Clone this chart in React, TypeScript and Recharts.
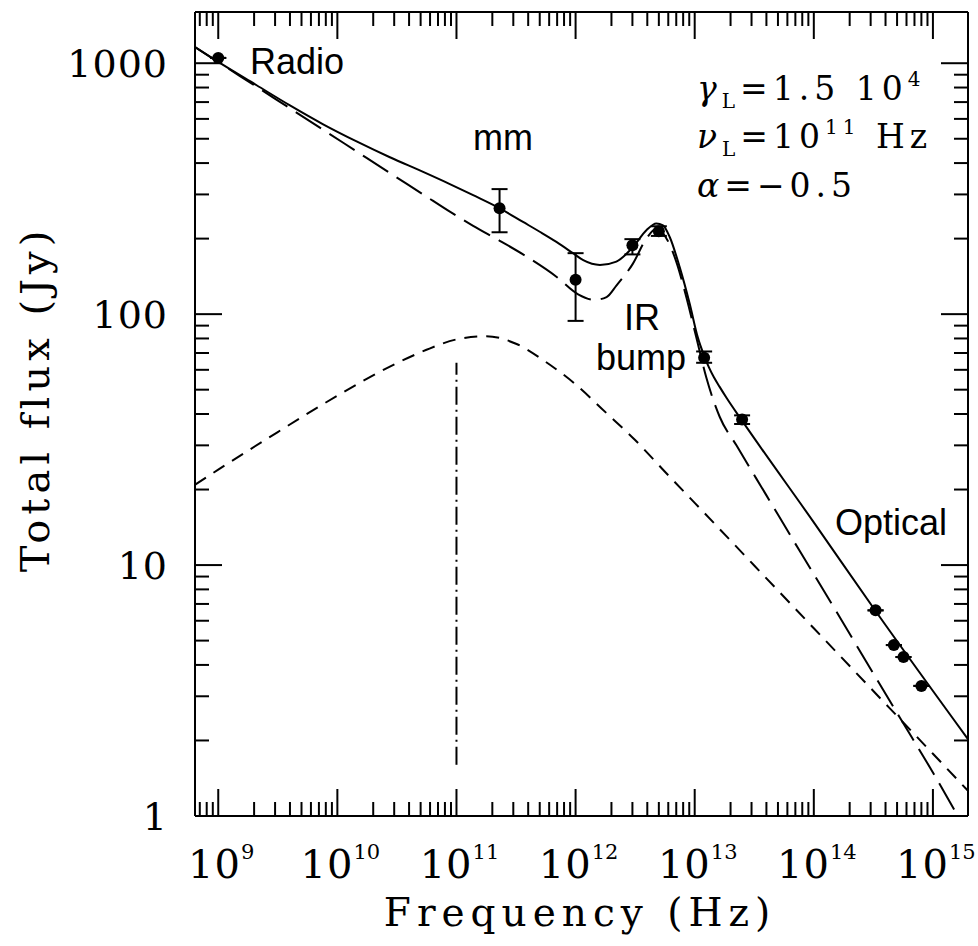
// Broad-band spectrum (radio → optical) with model curves, recharts log-log
import { ComposedChart, Line, Scatter, ErrorBar, XAxis, YAxis } from 'recharts';

// frequency in Hz, flux in Jy
const totalNu = [6.38e8, 1.0e9, 2.1e9, 4.0e9, 7.6e9, 1.45e10, 2.76e10, 5.25e10, 8.8e10, 1.38e11, 2.31e11, 3.62e11, 5.0e11, 6.9e11, 9.5e11, 1.16e12, 1.6e12, 2.2e12, 3.03e12, 3.93e12, 4.76e12, 5.42e12, 6.17e12, 7.48e12, 9.08e12, 1.06e13, 1.21e13, 1.32e13, 1.45e13, 1.62e13, 1.86e13, 2.48e13, 1.0e14, 3.3e14, 1.99e15];
const totalFlux = [1160, 1012, 817, 679, 571, 488, 422, 369, 330, 298, 264, 233, 213, 194, 175, 164, 157, 162, 185, 216, 230, 226, 203, 154, 110, 81, 67.6, 61.2, 56.0, 51.3, 46.2, 37.8, 14.8, 6.56, 2.01];

const longDashNu = [6.38e8, 1.1e9, 2.1e9, 4.0e9, 7.6e9, 1.45e10, 2.76e10, 5.25e10, 8.8e10, 1.38e11, 2.31e11, 3.62e11, 6.9e11, 1.05e12, 1.45e12, 1.82e12, 2.2e12, 3.03e12, 3.93e12, 4.76e12, 5.42e12, 7.0e12, 8.5e12, 1.03e13, 1.25e13, 1.62e13, 2.24e13, 3.99e13, 7.6e13, 1.45e14, 2.75e14, 5.24e14, 1.0e15, 1.62e15];
const longDashFlux = [1160, 982, 805, 661, 543, 445, 365, 300, 256, 225, 196, 173, 141, 120, 114, 117, 130, 159, 200, 219, 210, 162, 117, 81, 56, 39, 30, 19.0, 11.4, 6.87, 4.13, 2.48, 1.49, 1.0];

const shortDashNu = [6.38e8, 1.0e9, 3.16e9, 1.0e10, 3.16e10, 5.6e10, 1.0e11, 1.78e11, 3.16e11, 5.6e11, 1.0e12, 1.78e12, 3.16e12, 5.6e12, 1.0e13, 3.16e13, 1.0e14, 3.16e14, 1.0e15, 1.97e15];
const shortDashFlux = [20.9, 24.0, 33.9, 47.3, 63.8, 72.1, 79.3, 81.7, 76.2, 64.6, 52.5, 40.7, 31.5, 23.6, 17.7, 9.96, 5.6, 3.15, 1.77, 1.26];

// nu_L marker (dash-dot)
const nuLNu = [1e11, 1e11];
const nuLFlux = [1.6, 64];

// observed points with (lower, upper) error
const obsNu = [1.0e9, 2.3e11, 1.0e12, 3.0e12, 5.0e12, 1.2e13, 2.5e13, 3.3e14, 4.7e14, 5.66e14, 8.0e14];
const obsFlux = [1050, 264, 137, 188, 214, 67, 38, 6.6, 4.8, 4.3, 3.3];
const obsErrLow = [0, 52, 43, 15, 9, 3, 1.5, 0, 0, 0, 0];
const obsErrHigh = [0, 51, 38, 11, 10, 4, 1.5, 0, 0, 0, 0];

const xExponents = [9, 10, 11, 12, 13, 14, 15];
const yTickLabels = ['1', '10', '100', '1000'];
const minorMantissas = [2, 3, 4, 5, 6, 7, 8, 9];

const xDomain = [6.38e8, 1.97e15];
const yDomain = [1, 1600];

const zip = (nu: number[], flux: number[]) => nu.map((n, i) => ({ nu: n, flux: flux[i] }));
const totalData = zip(totalNu, totalFlux);
const longDashData = zip(longDashNu, longDashFlux);
const shortDashData = zip(shortDashNu, shortDashFlux);
const nuLData = zip(nuLNu, nuLFlux);
const obsData = obsNu.map((n, i) => ({ nu: n, flux: obsFlux[i], err: [obsErrLow[i], obsErrHigh[i]] }));

function logTicks(decades: number[], lo: number, hi: number) {
  const out: number[] = [];
  decades.forEach((d) => {
    [1, ...minorMantissas].forEach((m) => {
      const v = m * Math.pow(10, d);
      if (v >= lo && v <= hi) out.push(v);
    });
  });
  return out;
}
const xTicks = logTicks([8, ...xExponents], xDomain[0], xDomain[1]);
const yTicks = logTicks([0, 1, 2, 3], yDomain[0], yDomain[1]);

const MAJOR = 27;
const MINOR = 14;
const SERIF = '"DejaVu Serif", serif';
const SANS = '"Liberation Sans", Arial, sans-serif';

const isMajor = (v: number) => {
  const l = Math.log10(v);
  return Math.abs(l - Math.round(l)) < 1e-6;
};

function BottomTick(props: any) {
  const { x, y, payload } = props;
  const major = isMajor(payload.value);
  return (
    <g>
      <line x1={x} y1={y} x2={x} y2={y - (major ? MAJOR : MINOR)} stroke="#000" strokeWidth={2} />
      {major && (
        <text x={x + 3} y={y + 62} textAnchor="middle" fontFamily={SERIF} fontSize={40} letterSpacing={1} fill="#000">
          10
          <tspan dy={-19} fontSize={21} letterSpacing={0}>{Math.round(Math.log10(payload.value))}</tspan>
        </text>
      )}
    </g>
  );
}

function TopTick(props: any) {
  const { x, y, payload } = props;
  const major = isMajor(payload.value);
  return <line x1={x} y1={y} x2={x} y2={y + (major ? MAJOR : MINOR)} stroke="#000" strokeWidth={2} />;
}

function LeftTick(props: any) {
  const { x, y, payload } = props;
  const major = isMajor(payload.value);
  const idx = Math.round(Math.log10(payload.value));
  return (
    <g>
      <line x1={x} y1={y} x2={x + (major ? MAJOR : MINOR)} y2={y} stroke="#000" strokeWidth={2} />
      {major && (
        <text x={x - 27} y={y + 14} textAnchor="end" fontFamily={SERIF} fontSize={38} letterSpacing={1} fill="#000">
          {yTickLabels[idx]}
        </text>
      )}
    </g>
  );
}

function RightTick(props: any) {
  const { x, y, payload } = props;
  const major = isMajor(payload.value);
  return <line x1={x} y1={y} x2={x - (major ? MAJOR : MINOR)} y2={y} stroke="#000" strokeWidth={2} />;
}

const dot = (p: any) => <circle cx={p.cx} cy={p.cy} r={6} fill="#000" />;

export default function App() {
  const axisLine = { stroke: '#000', strokeWidth: 2 };
  return (
    <div style={{ position: 'absolute', left: 0, top: 0, width: 978, height: 946, background: '#fff' }}>
      <ComposedChart width={978} height={946} margin={{ top: 11, right: 9, bottom: 70, left: 75 }}>
        <XAxis dataKey="nu" type="number" scale="log" domain={xDomain} allowDataOverflow ticks={xTicks} interval={0}
          height={60} tickSize={0} tickMargin={0} tickLine={false} axisLine={axisLine} tick={BottomTick} />
        <XAxis xAxisId="top" orientation="top" dataKey="nu" type="number" scale="log" domain={xDomain} allowDataOverflow
          ticks={xTicks} interval={0} height={1} tickSize={0} tickMargin={0} tickLine={false} axisLine={axisLine} tick={TopTick} />
        <YAxis dataKey="flux" type="number" scale="log" domain={yDomain} allowDataOverflow ticks={yTicks} interval={0}
          width={120} tickSize={0} tickMargin={0} tickLine={false} axisLine={axisLine} tick={LeftTick} />
        <YAxis yAxisId="right" orientation="right" dataKey="flux" type="number" scale="log" domain={yDomain} allowDataOverflow
          ticks={yTicks} interval={0} width={1} tickSize={0} tickMargin={0} tickLine={false} axisLine={axisLine} tick={RightTick} />

        <Line data={shortDashData} dataKey="flux" type="monotone" stroke="#000" strokeWidth={2} strokeDasharray="13 9" dot={false} isAnimationActive={false} />
        <Line data={longDashData} dataKey="flux" type="monotone" stroke="#000" strokeWidth={2} strokeDasharray="30 10" dot={false} isAnimationActive={false} />
        <Line data={totalData} dataKey="flux" type="monotone" stroke="#000" strokeWidth={2} dot={false} isAnimationActive={false} />
        <Line xAxisId="top" yAxisId="right" data={nuLData} dataKey="flux" type="linear" stroke="#000" strokeWidth={2} strokeDasharray="18 5 2 5" dot={false} isAnimationActive={false} />
        <Scatter data={obsData} dataKey="flux" fill="#000" shape={dot} isAnimationActive={false}>
          <ErrorBar dataKey="err" direction="y" width={8} stroke="#000" strokeWidth={2} />
        </Scatter>
      </ComposedChart>

      <svg width={978} height={946} style={{ position: 'absolute', left: 0, top: 0, pointerEvents: 'none' }}>
        <g fontFamily={SANS} fontSize={36} fill="#000">
          <text x={250} y={74}>Radio</text>
          <text x={473} y={150}>mm</text>
          <text x={642} y={330} textAnchor="middle">IR</text>
          <text x={641} y={370} textAnchor="middle">bump</text>
          <text x={835} y={535}>Optical</text>
        </g>
        <g fontFamily={SERIF} fontSize={33} fill="#000" letterSpacing={5} style={{ whiteSpace: 'pre' }}>
          <text x={697} y={100}>
            <tspan fontStyle="italic">γ</tspan>
            <tspan dy={8} fontSize={20}>L</tspan>
            <tspan dy={-8}>=1.5  10</tspan>
            <tspan dy={-14} fontSize={20}>4</tspan>
          </text>
          <text x={697} y={148}>
            <tspan fontStyle="italic">ν</tspan>
            <tspan dy={8} fontSize={20}>L</tspan>
            <tspan dy={-8}>=10</tspan>
            <tspan dy={-14} fontSize={20}>11</tspan>
            <tspan dy={14}>  Hz</tspan>
          </text>
          <text x={697} y={197}>
            <tspan fontStyle="italic">α</tspan>
            <tspan>=−0.5</tspan>
          </text>
        </g>
        <text x={580} y={926} textAnchor="middle" fontFamily={SERIF} fontSize={39} letterSpacing={6} fill="#000">Frequency (Hz)</text>
        <text transform="translate(49 399) rotate(-90)" textAnchor="middle" fontFamily={SERIF} fontSize={40} letterSpacing={5} fill="#000">Total flux (Jy)</text>
      </svg>
    </div>
  );
}
